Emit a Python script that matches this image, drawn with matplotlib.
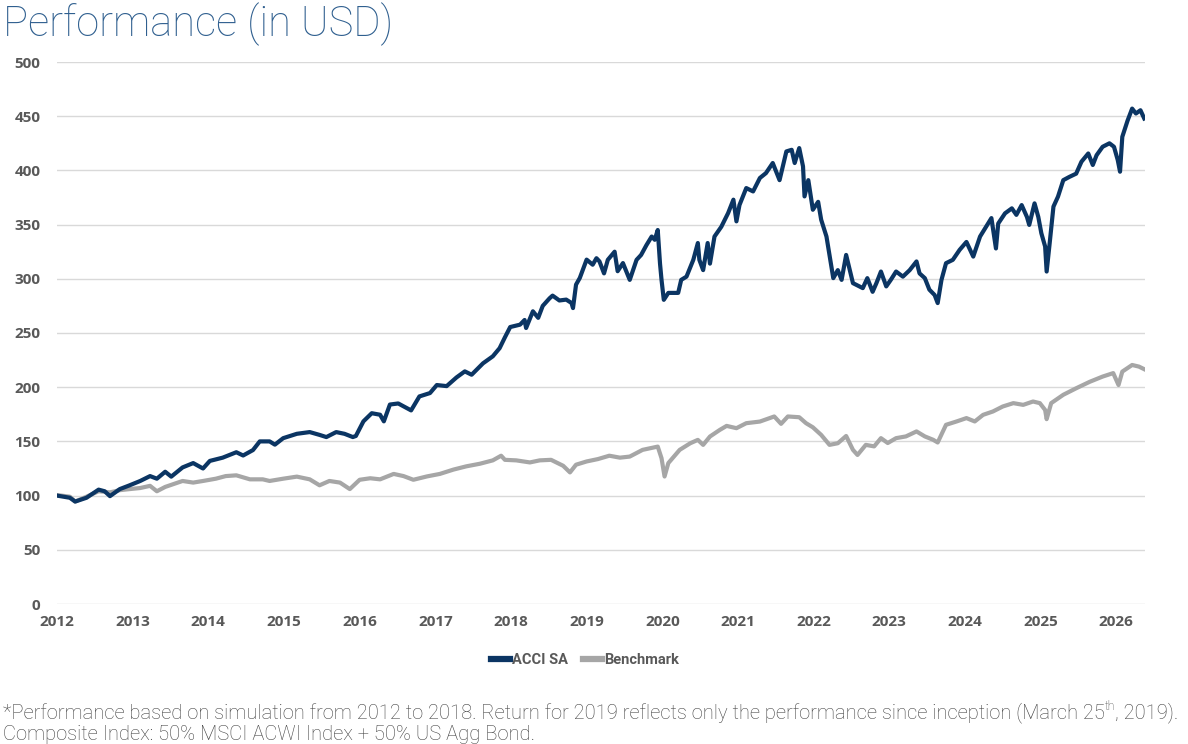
import matplotlib
matplotlib.use("Agg")
import matplotlib.pyplot as plt
from matplotlib import font_manager as fm
from matplotlib.lines import Line2D

# ---------------- data ----------------
acci_t = [2012.00, 2012.17, 2012.24, 2012.39, 2012.55, 2012.63, 2012.70, 2012.83, 2012.96,
          2013.10, 2013.23, 2013.32, 2013.43, 2013.51, 2013.66, 2013.80, 2013.93, 2014.02,
          2014.19, 2014.37, 2014.46, 2014.59, 2014.68, 2014.81, 2014.88, 2014.99, 2015.17,
          2015.34, 2015.47, 2015.56, 2015.69, 2015.80, 2015.91, 2015.95, 2016.05, 2016.16,
          2016.27, 2016.32, 2016.40, 2016.51, 2016.68, 2016.79, 2016.93, 2017.02, 2017.15,
          2017.28, 2017.39, 2017.48, 2017.63, 2017.76, 2017.85, 2017.92, 2017.99, 2018.12,
          2018.18, 2018.20, 2018.29, 2018.36, 2018.42, 2018.51, 2018.55, 2018.64, 2018.73,
          2018.80, 2018.82, 2018.86, 2018.91, 2019.00, 2019.08, 2019.13, 2019.17, 2019.23,
          2019.28, 2019.37, 2019.41, 2019.48, 2019.57, 2019.66, 2019.72, 2019.79, 2019.86,
          2019.90, 2019.94, 2019.97, 2019.99, 2020.02, 2020.08, 2020.21, 2020.25, 2020.32,
          2020.41, 2020.47, 2020.49, 2020.54, 2020.60, 2020.63, 2020.69, 2020.78, 2020.87,
          2020.94, 2020.98, 2021.02, 2021.11, 2021.20, 2021.29, 2021.37, 2021.46, 2021.55,
          2021.64, 2021.71, 2021.75, 2021.81, 2021.86, 2021.88, 2021.93, 2021.99, 2022.06,
          2022.10, 2022.17, 2022.26, 2022.32, 2022.37, 2022.43, 2022.52, 2022.65, 2022.71,
          2022.78, 2022.83, 2022.89, 2022.96, 2023.02, 2023.09, 2023.18, 2023.27, 2023.36,
          2023.40, 2023.47, 2023.53, 2023.60, 2023.64, 2023.69, 2023.75, 2023.84, 2023.93,
          2024.02, 2024.11, 2024.20, 2024.28, 2024.35, 2024.41, 2024.44, 2024.53, 2024.62,
          2024.68, 2024.75, 2024.82, 2024.85, 2024.92, 2024.97, 2025.01, 2025.06, 2025.08,
          2025.12, 2025.17, 2025.23, 2025.30, 2025.38, 2025.47, 2025.54, 2025.63, 2025.69,
          2025.74, 2025.82, 2025.91, 2025.97, 2026.02, 2026.05, 2026.08, 2026.15, 2026.21,
          2026.26, 2026.32, 2026.37]
acci_v = [100.0, 98.0, 94.5, 98.0, 105.5, 104.0, 99.5, 106.0, 109.5,
          113.5, 118.0, 115.6, 122.0, 117.5, 126.0, 130.0, 125.0, 132.0,
          135.0, 140.0, 137.0, 142.0, 150.0, 150.0, 147.0, 153.0, 157.0,
          158.6, 156.0, 154.0, 158.6, 157.0, 154.0, 155.0, 168.5, 176.0,
          174.6, 168.5, 184.0, 185.0, 178.6, 191.5, 194.6, 202.0, 201.0,
          209.0, 214.6, 211.5, 222.0, 228.5, 236.0, 246.0, 255.5, 257.7,
          262.0, 254.6, 270.0, 264.0, 275.0, 282.0, 284.5, 280.0, 280.8,
          277.7, 273.0, 294.6, 300.8, 317.7, 313.0, 319.0, 316.0, 305.0,
          317.5, 325.0, 307.0, 314.5, 299.0, 317.5, 322.0, 331.0, 339.0,
          336.0, 345.0, 314.0, 299.0, 280.6, 287.0, 287.0, 299.0, 302.0,
          317.5, 333.0, 317.5, 308.0, 333.0, 314.0, 339.0, 348.0, 360.6,
          373.0, 353.0, 368.0, 383.7, 380.6, 393.0, 397.5, 406.8, 391.0,
          417.5, 419.0, 406.8, 420.6, 403.7, 376.0, 391.0, 363.7, 371.0,
          354.5, 339.0, 300.6, 308.0, 299.0, 322.0, 296.0, 291.4, 300.6,
          288.0, 296.0, 306.7, 293.0, 299.0, 306.7, 302.0, 308.0, 316.0,
          305.0, 300.6, 290.0, 285.0, 277.6, 299.0, 314.4, 317.5, 326.7,
          334.0, 320.5, 339.0, 348.0, 356.0, 328.0, 351.0, 360.4, 365.0,
          359.0, 368.0, 357.0, 349.7, 369.6, 357.0, 342.0, 329.8, 306.7,
          332.8, 366.6, 375.8, 391.0, 394.0, 397.0, 408.0, 415.6, 405.0,
          414.0, 421.8, 425.0, 421.8, 409.5, 398.8, 431.0, 446.0, 457.0,
          452.5, 455.5, 447.9]

bench_t = [2012.00, 2012.17, 2012.24, 2012.39, 2012.55, 2012.70, 2012.83, 2012.96, 2013.10,
           2013.23, 2013.32, 2013.43, 2013.53, 2013.66, 2013.80, 2013.93, 2014.10, 2014.23,
           2014.37, 2014.55, 2014.72, 2014.81, 2014.99, 2015.17, 2015.34, 2015.47, 2015.60,
           2015.74, 2015.87, 2016.00, 2016.14, 2016.27, 2016.45, 2016.58, 2016.71, 2016.89,
           2017.06, 2017.24, 2017.41, 2017.59, 2017.76, 2017.87, 2017.92, 2018.07, 2018.25,
           2018.38, 2018.53, 2018.69, 2018.78, 2018.86, 2019.00, 2019.15, 2019.30, 2019.44,
           2019.57, 2019.74, 2019.94, 2019.99, 2020.03, 2020.08, 2020.23, 2020.37, 2020.47,
           2020.54, 2020.63, 2020.76, 2020.85, 2020.98, 2021.11, 2021.29, 2021.48, 2021.57,
           2021.66, 2021.81, 2021.90, 2021.99, 2022.10, 2022.21, 2022.32, 2022.43, 2022.52,
           2022.58, 2022.69, 2022.80, 2022.89, 2022.98, 2023.09, 2023.22, 2023.36, 2023.47,
           2023.58, 2023.64, 2023.75, 2023.89, 2024.02, 2024.13, 2024.24, 2024.37, 2024.50,
           2024.64, 2024.77, 2024.90, 2024.99, 2025.06, 2025.08, 2025.14, 2025.30, 2025.47,
           2025.65, 2025.82, 2025.96, 2026.03, 2026.08, 2026.21, 2026.30, 2026.37]
bench_v = [100.5, 99.0, 94.5, 99.0, 104.0, 103.0, 105.0, 106.0, 107.0,
           109.0, 104.0, 108.0, 110.4, 113.5, 112.0, 113.5, 115.6, 118.0,
           118.7, 115.0, 115.0, 113.5, 115.6, 117.5, 115.0, 109.5, 113.5,
           112.0, 106.0, 114.6, 116.0, 115.0, 120.0, 118.0, 114.6, 117.7,
           120.0, 124.0, 127.0, 129.4, 132.5, 136.8, 133.0, 132.5, 130.6,
           132.5, 133.0, 127.5, 121.4, 128.5, 131.5, 133.7, 136.8, 135.0,
           136.0, 142.2, 145.2, 134.5, 117.6, 130.0, 142.2, 148.3, 151.4,
           146.8, 154.5, 160.6, 164.3, 162.2, 166.8, 168.3, 173.0, 166.2,
           173.0, 172.3, 166.8, 163.0, 156.0, 146.8, 148.3, 155.0, 142.2,
           137.5, 146.8, 145.4, 153.0, 148.5, 153.0, 154.6, 159.2, 154.6,
           151.5, 149.0, 165.3, 168.4, 171.5, 168.4, 174.5, 177.6, 182.2,
           185.3, 183.7, 186.8, 185.3, 179.0, 170.5, 185.3, 193.0, 199.0,
           205.0, 209.8, 213.0, 202.0, 214.4, 220.5, 219.0, 216.6]

years = list(range(2012, 2027))
y_ticks = list(range(0, 501, 50))
series_names = ["ACCI SA", "Benchmark"]

# ---------------- style ----------------
NAVY = "#0b3563"
GREY = "#a6a6a6"
TICK = "#595959"
TITLE_C = "#2f5f8f"
GRID = "#d9d9d9"
FOOT = "Roboto"

fig = plt.figure(figsize=(11.88, 7.44), dpi=100)
ax = fig.add_axes([57/1188, 1-604/744, (1145-57)/1188, (604-62)/744])

ax.plot(bench_t, bench_v, color=GREY, lw=3.0, solid_joinstyle="round", zorder=3)
ax.plot(acci_t, acci_v, color=NAVY, lw=3.0, solid_joinstyle="round", zorder=4)

ax.set_xlim(2012, 2026.38)
ax.set_ylim(0, 500)
ax.set_yticks(y_ticks)
ax.set_xticks(years)
ax.set_xticklabels([str(y) for y in years])
ax.grid(axis="y", color=GRID, lw=1.0, zorder=0)
ax.grid(axis="x", visible=False)
for s in ax.spines.values():
    s.set_visible(False)
ax.tick_params(length=0, labelsize=11, labelcolor=TICK)
ax.tick_params(axis="y", pad=12)
ax.tick_params(axis="x", pad=8)
for lab in ax.get_xticklabels() + ax.get_yticklabels():
    lab.set_fontweight("bold")
    lab.set_family("Open Sans")

fig.text(3/1188, 1-2/744, "Performance (in USD)", family="Roboto", weight="light",
         fontsize=30, color=TITLE_C, ha="left", va="top")

handles = [Line2D([0], [0], color=NAVY, lw=4.5), Line2D([0], [0], color=GREY, lw=4.5)]
fig.legend(handles, series_names, loc="center", bbox_to_anchor=(585/1188, 1-660/744),
           ncol=2, frameon=False, handlelength=1.3, handletextpad=0.15, columnspacing=1.0,
           prop={"family": "Roboto", "weight": "bold", "size": 10.5})
for t in fig.legends[0].get_texts():
    t.set_color(TICK)

# footnote with superscript, sized to the width of the reference line
fcol = "#404040"
renderer = fig.canvas.get_renderer()
part1 = "*Performance based on simulation from 2012 to 2018. Return for 2019 reflects only the performance since inception (March 25"
part3 = ", 2019)."
fs = 12.0
probe = fig.text(0, 0, part1 + "th" + part3, family=FOOT, weight="light", fontsize=fs)
w = probe.get_window_extent(renderer).width
probe.remove()
fs = min(fs * 1180 / w, 14.5)

x0 = 3/1188
y1 = 1-713/744
t1 = fig.text(x0, y1, part1, family=FOOT, weight="light", fontsize=fs, color=fcol, ha="left", va="center")
bb = t1.get_window_extent(renderer)
t2 = fig.text(bb.x1 / fig.bbox.width, y1 + 6/744, "th", family=FOOT, weight="light",
              fontsize=fs*0.6, color=fcol, ha="left", va="center")
bb2 = t2.get_window_extent(renderer)
fig.text(bb2.x1 / fig.bbox.width, y1, part3, family=FOOT, weight="light", fontsize=fs,
         color=fcol, ha="left", va="center")
fig.text(x0, 1-735/744, "Composite Index: 50% MSCI ACWI Index + 50% US Agg Bond.",
         family=FOOT, weight="light", fontsize=fs, color=fcol, ha="left", va="center")

fig.savefig("out.png", dpi=100)
